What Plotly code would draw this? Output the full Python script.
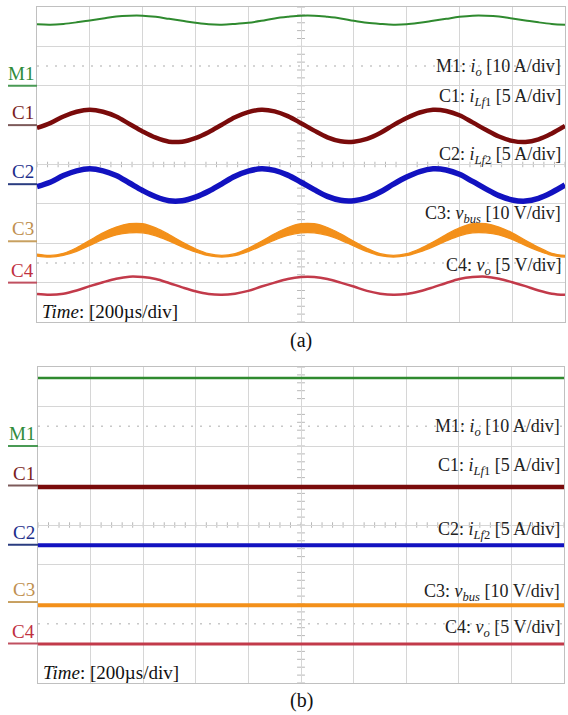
import plotly.graph_objects as go

# ---------------- data (in scope divisions) ----------------
# time samples in microseconds (200 us/div, 10 div)
t_a = [0, 50, 100, 150, 200, 250, 300, 350, 400, 450, 500, 550, 600, 650, 700, 750, 800,
       850, 900, 950, 1000, 1050, 1100, 1150, 1200, 1250, 1300, 1350, 1400, 1450, 1500,
       1550, 1600, 1650, 1700, 1750, 1800, 1850, 1900, 1950, 2000]

a_m1 = [3.56, 3.55, 3.57, 3.61, 3.66, 3.71, 3.76, 3.78, 3.78, 3.75, 3.70, 3.65, 3.60, 3.56,
        3.55, 3.57, 3.60, 3.65, 3.71, 3.75, 3.78, 3.78, 3.75, 3.71, 3.65, 3.60, 3.57, 3.55,
        3.56, 3.60, 3.65, 3.70, 3.75, 3.78, 3.78, 3.76, 3.71, 3.66, 3.61, 3.57, 3.55]
a_c1 = [0.93, 1.05, 1.22, 1.34, 1.39, 1.34, 1.22, 1.03, 0.84, 0.68, 0.58, 0.58, 0.67, 0.82,
        1.01, 1.20, 1.33, 1.39, 1.35, 1.23, 1.05, 0.86, 0.69, 0.59, 0.58, 0.65, 0.80, 1.00,
        1.18, 1.32, 1.39, 1.36, 1.25, 1.07, 0.88, 0.71, 0.60, 0.57, 0.64, 0.79, 0.98]
a_c2 = [-0.56, -0.45, -0.28, -0.16, -0.11, -0.16, -0.28, -0.47, -0.66, -0.82, -0.92, -0.92,
        -0.83, -0.68, -0.49, -0.30, -0.17, -0.11, -0.15, -0.27, -0.45, -0.64, -0.81, -0.91,
        -0.92, -0.85, -0.70, -0.50, -0.32, -0.18, -0.11, -0.14, -0.25, -0.43, -0.62, -0.79,
        -0.90, -0.93, -0.86, -0.71, -0.52]
a_c3 = [-2.30, -2.33, -2.28, -2.16, -1.99, -1.82, -1.69, -1.62, -1.62, -1.71, -1.86, -2.03,
        -2.18, -2.29, -2.33, -2.29, -2.17, -2.01, -1.84, -1.70, -1.62, -1.62, -1.70, -1.84,
        -2.01, -2.17, -2.29, -2.33, -2.29, -2.18, -2.03, -1.86, -1.71, -1.62, -1.62, -1.69,
        -1.82, -1.99, -2.15, -2.28, -2.33]
a_c3_ripple = [0.05, 0.04, 0.05, 0.09, 0.13, 0.17, 0.20, 0.23, 0.23, 0.20, 0.16, 0.12, 0.08,
               0.05, 0.04, 0.05, 0.08, 0.12, 0.16, 0.20, 0.23, 0.23, 0.20, 0.16, 0.12, 0.08,
               0.05, 0.04, 0.05, 0.08, 0.12, 0.16, 0.20, 0.23, 0.23, 0.20, 0.17, 0.13, 0.09,
               0.05, 0.04]
a_c4 = [-3.29, -3.31, -3.28, -3.20, -3.09, -2.99, -2.90, -2.85, -2.86, -2.91, -3.01, -3.12,
        -3.22, -3.29, -3.31, -3.28, -3.21, -3.10, -3.00, -2.91, -2.86, -2.86, -2.91, -3.00,
        -3.10, -3.21, -3.28, -3.31, -3.29, -3.22, -3.12, -3.01, -2.91, -2.86, -2.85, -2.90,
        -2.99, -3.09, -3.20, -3.28, -3.31]

t_b = [0, 500, 1000, 1500, 2000]
b_m1 = [3.72, 3.72, 3.72, 3.72, 3.72]
b_c1 = [0.96, 0.96, 0.96, 0.96, 0.96]
b_c2 = [-0.51, -0.51, -0.51, -0.51, -0.51]
b_c3 = [-2.03, -2.03, -2.03, -2.03, -2.03]
b_c4 = [-3.01, -3.01, -3.01, -3.01, -3.01]

# channel reference markers (div) and right-hand labels
channels = ["M1", "C1", "C2", "C3", "C4"]
marker_levels = [2.0, 1.0, -0.5, -1.95, -3.0]
labels = ["M1: <i>i</i><sub><i>o</i></sub> [10 A/div]",
          "C1: <i>i</i><sub><i>Lf</i>1</sub> [5 A/div]",
          "C2: <i>i</i><sub><i>Lf</i>2</sub> [5 A/div]",
          "C3: <i>v</i><sub><i>bus</i></sub> [10 V/div]",
          "C4: <i>v</i><sub><i>o</i></sub> [5 V/div]"]
label_levels_a = [2.47, 1.71, 0.24, -1.28, -2.60]
label_levels_b = [2.48, 1.49, -0.15, -1.70, -2.61]
time_label = "<i>Time</i>: [200µs/div]"

# ---------------- style ----------------
trace_col = {"M1": "#2f8a2f", "C1": "#7a0b0b", "C2": "#1212c0", "C3": "#f3901a", "C4": "#c23a4a"}
mark_txt = {"M1": "#2e8b3a", "C1": "#7a1e1e", "C2": "#1c2e8a", "C3": "#c09050", "C4": "#c03040"}
mark_line = {"M1": "#4a9a55", "C1": "#7d5a5a", "C2": "#2a3c80", "C3": "#c8a060", "C4": "#c05060"}
FONT = "Liberation Serif"
GRID = "#d6d6d6"

fig = go.Figure()

def add_line(x, y, col, w, xa, ya):
    fig.add_trace(go.Scatter(x=x, y=y, mode="lines", line=dict(color=col, width=w, shape="spline"),
                             xaxis=xa, yaxis=ya, showlegend=False, hoverinfo="skip"))

# panel (a)
add_line(t_a, a_m1, trace_col["M1"], 2, "x", "y")
add_line(t_a, a_c1, trace_col["C1"], 4.5, "x", "y")
add_line(t_a, a_c2, trace_col["C2"], 5.5, "x", "y")
c3_lo = [v - r / 2 for v, r in zip(a_c3, a_c3_ripple)]
c3_hi = [v + r / 2 for v, r in zip(a_c3, a_c3_ripple)]
fig.add_trace(go.Scatter(x=t_a, y=c3_lo, mode="lines", line=dict(color=trace_col["C3"], width=1.3, shape="spline"),
                         xaxis="x", yaxis="y", showlegend=False, hoverinfo="skip"))
fig.add_trace(go.Scatter(x=t_a, y=c3_hi, mode="lines", line=dict(color=trace_col["C3"], width=1.3, shape="spline"),
                         fill="tonexty", fillcolor=trace_col["C3"],
                         xaxis="x", yaxis="y", showlegend=False, hoverinfo="skip"))
add_line(t_a, a_c4, trace_col["C4"], 2.5, "x", "y")

# panel (b)
add_line(t_b, b_m1, trace_col["M1"], 2.5, "x2", "y2")
add_line(t_b, b_c1, trace_col["C1"], 4.5, "x2", "y2")
add_line(t_b, b_c2, trace_col["C2"], 4, "x2", "y2")
add_line(t_b, b_c3, trace_col["C3"], 4, "x2", "y2")
add_line(t_b, b_c4, trace_col["C4"], 3, "x2", "y2")

shapes = []
annotations = []

dom_x = {"a": [37 / 568, 565 / 568], "b": [38 / 568, 564 / 568]}
for panel, xr, yr, lab_levels, cap_y in [("a", "x", "y", label_levels_a, 1 - 340 / 715),
                                          ("b", "x2", "y2", label_levels_b, 1 - 700 / 715)]:
    x0p = dom_x[panel][0]
    # centre-line tick marks
    for k in range(51):
        xv = k * 40
        shapes.append(dict(type="line", xref=xr, yref=yr, x0=xv, x1=xv, y0=-0.07, y1=0.07,
                           line=dict(color="#b8b8b8", width=1), layer="below"))
    for k in range(41):
        yv = -4 + k * 0.2
        shapes.append(dict(type="line", xref=xr, yref=yr, x0=985, x1=1015, y0=yv, y1=yv,
                           line=dict(color="#b8b8b8", width=1), layer="below"))
    # dotted reference lines
    for yv in (2.5, -2.5):
        shapes.append(dict(type="line", xref=xr, yref=yr, x0=0, x1=2000, y0=yv, y1=yv,
                           line=dict(color="#c8c8c8", width=1.5, dash="2px,7px"), layer="below"))
    # channel markers on the left
    for ch, lv in zip(channels, marker_levels):
        shapes.append(dict(type="line", xref="paper", yref=yr, x0=8 / 568, x1=x0p, y0=lv, y1=lv,
                           line=dict(color=mark_line[ch], width=2)))
        annotations.append(dict(text=ch, xref="paper", yref=yr, x=x0p - 0.002, y=lv,
                                xanchor="right", yanchor="bottom", showarrow=False,
                                font=dict(family=FONT, size=19, color=mark_txt[ch])))
    # right-hand labels
    for txt, lv in zip(labels, lab_levels):
        annotations.append(dict(text=txt, xref="paper", yref=yr, x=dom_x[panel][1] - 0.003, y=lv,
                                xanchor="right", yanchor="middle", showarrow=False,
                                font=dict(family=FONT, size=18, color="#222222")))
    annotations.append(dict(text=time_label, xref="paper", yref=yr, x=x0p + 0.005, y=-3.73,
                            xanchor="left", yanchor="middle", showarrow=False,
                            font=dict(family=FONT, size=19, color="#111111")))
    annotations.append(dict(text="(" + panel + ")", xref="paper", yref="paper", x=301 / 568, y=cap_y,
                            xanchor="center", yanchor="middle", showarrow=False,
                            font=dict(family=FONT, size=20, color="#111111")))

axis_common = dict(showticklabels=False, ticks="", showgrid=True, gridcolor=GRID, gridwidth=1,
                   zeroline=False, showline=True, linecolor="#c0c0c0", linewidth=1, mirror=True)

fig.update_layout(
    width=568, height=715,
    margin=dict(l=0, r=0, t=0, b=0),
    paper_bgcolor="white", plot_bgcolor="white",
    xaxis=dict(domain=dom_x["a"], range=[0, 2000], dtick=200, tick0=0, anchor="y", **axis_common),
    yaxis=dict(domain=[1 - 322 / 715, 1 - 7 / 715], range=[-4, 4], dtick=1, tick0=0, anchor="x", **axis_common),
    xaxis2=dict(domain=dom_x["b"], range=[0, 2000], dtick=200, tick0=0, anchor="y2", **axis_common),
    yaxis2=dict(domain=[1 - 683 / 715, 1 - 367 / 715], range=[-4, 4], dtick=1, tick0=0, anchor="x2", **axis_common),
    shapes=shapes,
    annotations=annotations,
    showlegend=False,
    hovermode=False,
)

fig.write_html("out.html", config={"displayModeBar": False, "staticPlot": True},
               post_script="document.body.style.margin='0';document.body.style.overflow='hidden';")
